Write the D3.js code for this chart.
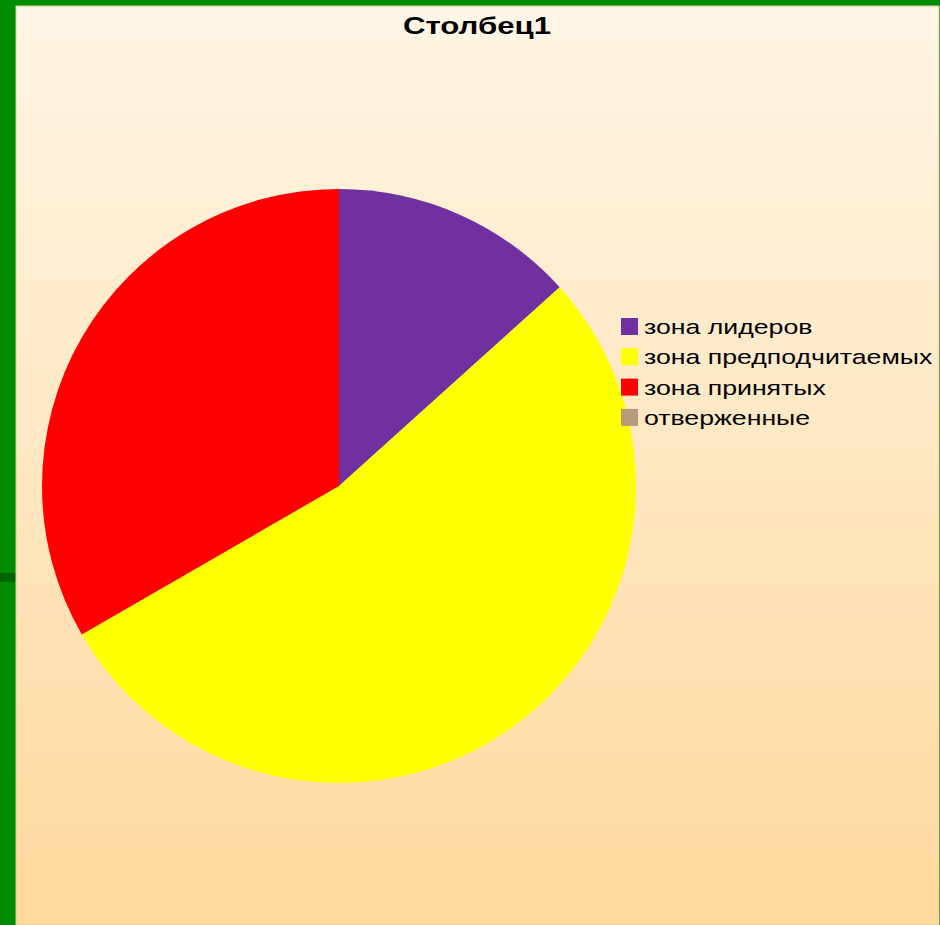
<!DOCTYPE html>
<html>
<head>
<meta charset="utf-8">
<script src="https://cdn.jsdelivr.net/npm/d3@7"></script>
<style>
  body { margin: 0; background: #008c00; }
  svg { display: block; }
</style>
</head>
<body>
<svg id="canvas" width="940" height="925"></svg>
<script>
// chart data
let categories = ['зона лидеров', 'зона предподчитаемых', 'зона принятых', 'отверженные']
let values = [2, 8, 5, 0]
let colors = ['#7030a0', '#ffff00', '#ff0000', '#b89a7a']
let title = 'Столбец1'

let canvas = d3.select('#canvas')

// background: green frame + peach gradient panel
let defs = canvas.append('defs')
let grad = defs.append('linearGradient')
    .attr('id', 'bg')
    .attr('x1', 0).attr('y1', 0)
    .attr('x2', 0).attr('y2', 1)
grad.append('stop').attr('offset', '0%').attr('stop-color', '#fff6e6')
grad.append('stop').attr('offset', '100%').attr('stop-color', '#ffd89c')

canvas.append('rect')
    .attr('width', 940).attr('height', 925)
    .attr('fill', '#008c00')

canvas.append('rect')
    .attr('x', 0).attr('y', 573)
    .attr('width', 16).attr('height', 9)
    .attr('fill', '#006400')

canvas.append('rect')
    .attr('x', 16).attr('y', 6)
    .attr('width', 923).attr('height', 919)
    .attr('fill', 'url(#bg)')
    .attr('stroke', '#e8c89a')
    .attr('stroke-width', 1)

// the source picture is stretched sideways, so text is scaled in x
canvas.append('text')
    .attr('transform', 'translate(477,34) scale(1.3,1)')
    .attr('text-anchor', 'middle')
    .attr('font-family', 'Arial, "Liberation Sans", sans-serif')
    .attr('font-weight', 'bold')
    .attr('font-size', 24)
    .attr('fill', '#000')
    .text(title)

// pie
let pieData = d3.pie().sort(null)(values)
let arc = d3.arc().innerRadius(0).outerRadius(297)

let color = d3.scaleOrdinal().domain(categories).range(colors)

let pieGroup = canvas.append('g')
    .attr('transform', 'translate(339,486)')

pieGroup.selectAll('path')
    .data(pieData)
    .enter()
    .append('path')
    .attr('d', arc)
    .attr('fill', (d, i) => color(categories[i]))

// legend
let legend = canvas.append('g')
    .attr('transform', 'translate(621,318)')

let item = legend.selectAll('g')
    .data(categories)
    .enter()
    .append('g')
    .attr('transform', (d, i) => 'translate(0,' + (i * 30.3) + ')')

item.append('rect')
    .attr('width', 17).attr('height', 17)
    .attr('fill', d => color(d))

item.append('text')
    .attr('transform', 'translate(23,16) scale(1.27,1)')
    .attr('font-family', 'Arial, "Liberation Sans", sans-serif')
    .attr('font-size', 21)
    .attr('fill', '#000')
    .text(d => d)
</script>
</body>
</html>
